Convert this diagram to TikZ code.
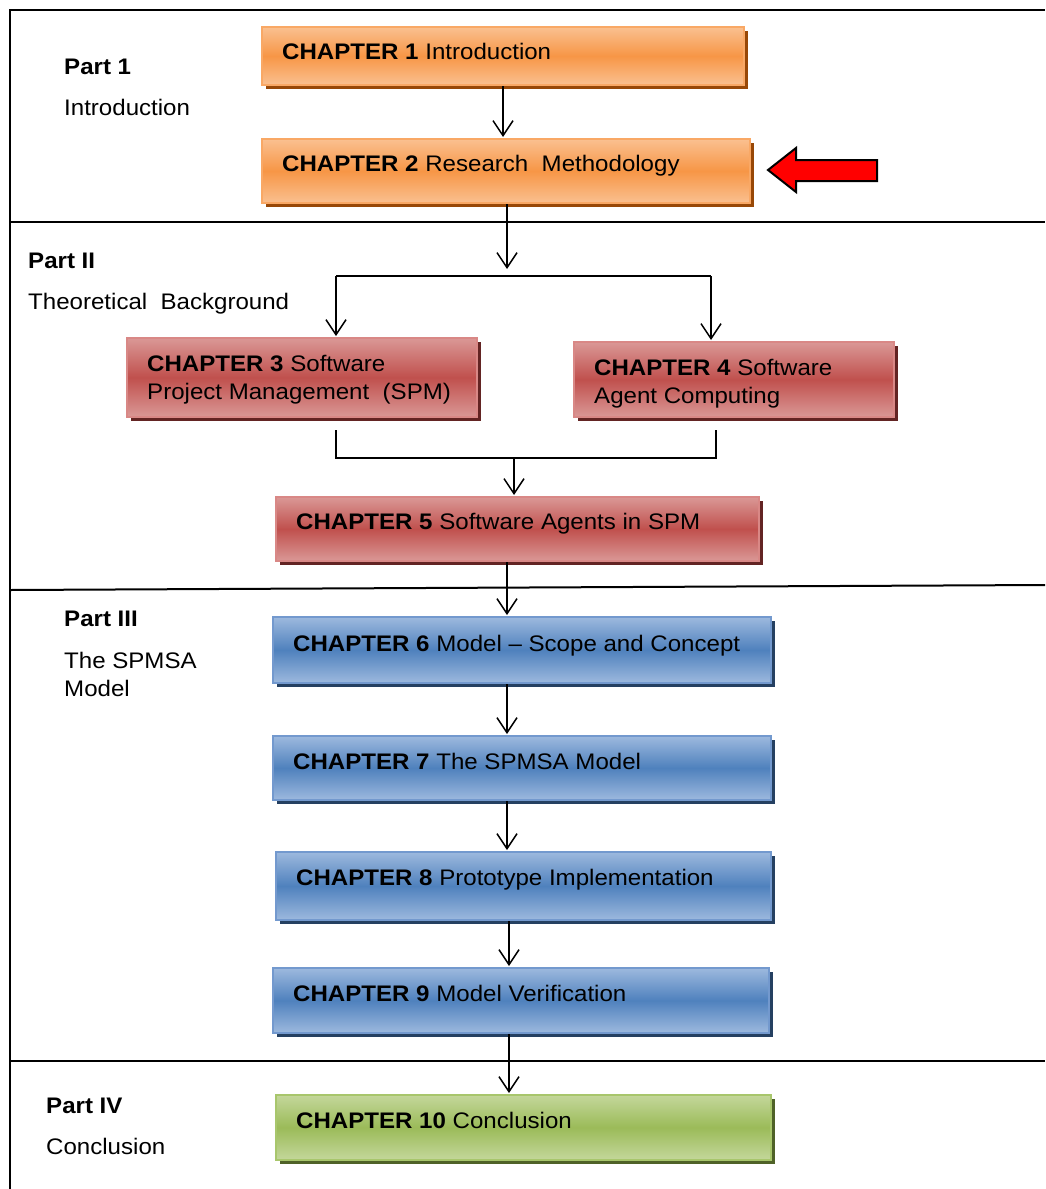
\documentclass[tikz,border=0pt]{standalone}
\usepackage{fontspec}
\setmainfont[FakeStretch=1.07]{Liberation Sans}
\usetikzlibrary{arrows.meta}
\definecolor{oL}{HTML}{FAC090}\definecolor{oM}{HTML}{F79646}\definecolor{oB}{HTML}{F9A865}\definecolor{oS}{HTML}{984807}
\definecolor{rL}{HTML}{DA9896}\definecolor{rM}{HTML}{C0504D}\definecolor{rB}{HTML}{D98886}\definecolor{rS}{HTML}{632423}
\definecolor{bL}{HTML}{9DB9DE}\definecolor{bM}{HTML}{4F81BD}\definecolor{bB}{HTML}{7399CE}\definecolor{bS}{HTML}{254061}
\definecolor{gL}{HTML}{C4D79B}\definecolor{gM}{HTML}{9BBB59}\definecolor{gB}{HTML}{A8C66C}\definecolor{gS}{HTML}{4F6228}
\begin{document}
\begin{tikzpicture}[x=1pt,y=-1pt,
  every node/.style={font=\fontsize{22.5}{28}\selectfont, inner sep=0pt},
  box/.style={rectangle, line width=2pt},
  obox/.style={box, draw=oB, top color=oL, bottom color=oL, middle color=oM, preaction={fill=oS, transform canvas={shift={(4pt,-4pt)}}}},
  rbox/.style={box, draw=rB, top color=rL, bottom color=rL, middle color=rM, preaction={fill=rS, transform canvas={shift={(4pt,-4pt)}}}},
  bbox/.style={box, draw=bB, top color=bL, bottom color=bL, middle color=bM, preaction={fill=bS, transform canvas={shift={(4pt,-4pt)}}}},
  gbox/.style={box, draw=gB, top color=gL, bottom color=gL, middle color=gM, preaction={fill=gS, transform canvas={shift={(4pt,-4pt)}}}},
  txt/.style={anchor=base west},
  frame/.style={line width=2pt},
  arr/.style={line width=1.5pt, -{Straight Barb[length=15pt,width=20pt,line width=1.5pt]}, shorten >=1pt},
  conn/.style={line width=1.5pt}
]
\useasboundingbox (0,0) rectangle (1045,1189);
% frame and section separators
\draw[frame] (10,1189) -- (10,10) -- (1045,10);
\draw[frame] (10,222) -- (1045,222);
\draw[frame] (10,590) -- (1045,585);
\draw[frame] (10,1061) -- (1045,1061);

% part labels
\node[txt] (p1) at (64,74) {\textbf{Part 1}};
\node[txt] (p1t) at (64,115) {Introduction};
\node[txt] (p2) at (28,268) {\textbf{Part II}};
\node[txt] (p2t) at (28,309) {Theoretical\ \ Background};
\node[txt] (p3) at (64,626) {\textbf{Part III}};
\node[txt] (p3t) at (64,668) {\begin{tabular}[t]{@{}l@{}}The SPMSA\\Model\end{tabular}};
\node[txt] (p4) at (46,1113) {\textbf{Part IV}};
\node[txt] (p4t) at (46,1154) {Conclusion};

% boxes
\node[obox, minimum width=482pt, minimum height=58pt] (c1) at (503,56) {};
\node[obox, minimum width=488pt, minimum height=64pt] (c2) at (506,171) {};
\node[rbox, minimum width=350pt, minimum height=79pt] (c3) at (302,377.5) {};
\node[rbox, minimum width=320pt, minimum height=75pt] (c4) at (734,379.5) {};
\node[rbox, minimum width=483pt, minimum height=64pt] (c5) at (517.5,529) {};
\node[bbox, minimum width=498pt, minimum height=66pt] (c6) at (522,650) {};
\node[bbox, minimum width=498pt, minimum height=64pt] (c7) at (522,768) {};
\node[bbox, minimum width=495pt, minimum height=68pt] (c8) at (523.5,886) {};
\node[bbox, minimum width=496pt, minimum height=65pt] (c9) at (521,1000.5) {};
\node[gbox, minimum width=495pt, minimum height=65pt] (c10) at (523.5,1127.5) {};

% box texts
\node[txt] (t1) at (282,59) {\textbf{CHAPTER 1} Introduction};
\node[txt] (t2) at (282,171) {\textbf{CHAPTER 2} Research\ \ Methodology};
\node[txt] (t3) at (147,371) {\begin{tabular}[t]{@{}l@{}}\textbf{CHAPTER 3} Software\\Project Management\ \ (SPM)\end{tabular}};
\node[txt] (t4) at (594,375) {\begin{tabular}[t]{@{}l@{}}\textbf{CHAPTER 4} Software\\Agent Computing\end{tabular}};
\node[txt] (t5) at (296,529) {\textbf{CHAPTER 5} Software Agents in SPM};
\node[txt] (t6) at (293,651) {\textbf{CHAPTER 6} Model – Scope and Concept};
\node[txt] (t7) at (293,769) {\textbf{CHAPTER 7} The SPMSA Model};
\node[txt] (t8) at (296,885) {\textbf{CHAPTER 8} Prototype Implementation};
\node[txt] (t9) at (293,1001) {\textbf{CHAPTER 9} Model Verification};
\node[txt] (t10) at (296,1128) {\textbf{CHAPTER 10} Conclusion};

% red pointer arrow
\draw[line width=2pt, fill=red, line join=miter] (768,170) -- (796,148) -- (796,160) -- (877,160) -- (877,181) -- (796,181) -- (796,192) -- cycle;

% connector coordinates
\coordinate (x12) at (503,0);
\coordinate (s0) at (507,270);
\coordinate (sl) at (336,276);
\coordinate (sr) at (711,276);
\coordinate (mlt) at (336,430);
\coordinate (ml) at (336,458);
\coordinate (mr) at (716,458);
\coordinate (mrt) at (716,430);
\coordinate (m0) at (514,458);
\coordinate (x56) at (507,0);
\coordinate (x67) at (507,0);
\coordinate (x78) at (507,0);
\coordinate (x89) at (509,0);
\coordinate (x910) at (509,0);

% connectors
\draw[arr] (c1.south -| x12) -- (c2.north -| x12);
\draw[arr] (c2.south -| s0) -- (s0);
\draw[conn] (sl) -- (sr);
\draw[arr] (sl) -- (c3.north -| sl);
\draw[arr] (sr) -- (c4.north -| sr);
\draw[conn] (mlt) -- (ml) -- (mr) -- (mrt);
\draw[arr] (m0) -- (c5.north -| m0);
\draw[arr] (c5.south -| x56) -- (c6.north -| x56);
\draw[arr] (c6.south -| x67) -- (c7.north -| x67);
\draw[arr] (c7.south -| x78) -- (c8.north -| x78);
\draw[arr] (c8.south -| x89) -- (c9.north -| x89);
\draw[arr] (c9.south -| x910) -- (c10.north -| x910);
\end{tikzpicture}
\end{document}
